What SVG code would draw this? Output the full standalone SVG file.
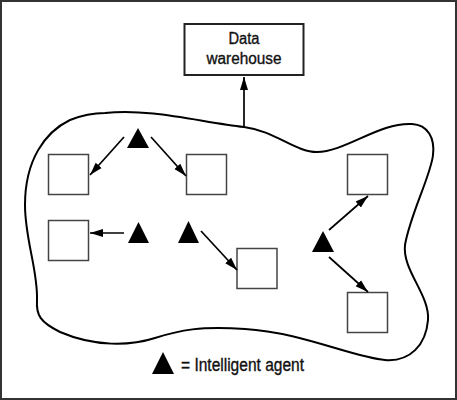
<svg xmlns="http://www.w3.org/2000/svg" width="457" height="400" viewBox="0 0 457 400">
<style>
.sq{fill:#fff;stroke:#444;stroke-width:1.5}
.ag{fill:#000}
.ln{stroke:#000;stroke-width:1.7;fill:none}
.tx{font-family:"Liberation Sans Narrow","Liberation Sans",Arial,sans-serif;fill:#111;stroke:#111;stroke-width:0.35}
</style>
<defs>
<marker id="ah" markerUnits="userSpaceOnUse" markerWidth="14" markerHeight="10" viewBox="0 0 14 10" refX="13" refY="5" orient="auto">
<path d="M0,1 L13,5 L0,9 Z" fill="#000"/>
</marker>
</defs>
<rect x="1" y="1" width="455" height="398" fill="#fff" stroke="#333" stroke-width="2"/>
<g id="region">
<path d="M105,113 C150,108 200,122 244,127 C275,131 295,152 317,152 C345,152 380,122 412,124 C428,125 435,138 433,155 C431,175 410,215 405,245 C402,270 430,295 428,320 C426,345 410,362 385,360 C355,358 300,332 245,329 C200,326 180,330 155,338 C130,346 95,347 60,332 C40,322 36,315 37,300 C38,270 25,240 25,205 C25,160 45,132 70,120 C85,114 95,113 105,113 Z" fill="none" stroke="#000" stroke-width="2"/>
</g>
<g id="warehouse">
<rect x="184.5" y="24" width="119" height="51" fill="#fff" stroke="#222" stroke-width="2"/>
<text class="tx" x="244" y="44" font-size="16" text-anchor="middle" textLength="31" lengthAdjust="spacingAndGlyphs">Data</text>
<text class="tx" x="244" y="64" font-size="16" text-anchor="middle" textLength="75" lengthAdjust="spacingAndGlyphs">warehouse</text>
</g>
<g id="squares">
<rect id="s1" class="sq" x="48.5" y="154.5" width="40" height="40"/>
<rect id="s2" class="sq" x="186.5" y="154.5" width="40" height="40"/>
<rect id="s3" class="sq" x="347.5" y="154.5" width="40" height="40"/>
<rect id="s4" class="sq" x="48.5" y="220.5" width="40" height="40"/>
<rect id="s5" class="sq" x="237" y="248.5" width="40" height="40"/>
<rect id="s6" class="sq" x="347.5" y="292.5" width="40" height="40"/>
</g>
<g id="agents">
<polygon id="a1" class="ag" points="138,128 149,148 127,148"/>
<polygon id="a2" class="ag" points="138.5,222 149,243 128,243"/>
<polygon id="a3" class="ag" points="188.5,221 199,243 178,243"/>
<polygon id="a4" class="ag" points="323,231 334,252 312,252"/>
</g>
<g id="connectors">
<line class="ln" x1="244" y1="128" x2="244" y2="77" marker-end="url(#ah)"/>
<line class="ln" x1="124" y1="137" x2="90" y2="175" marker-end="url(#ah)"/>
<line class="ln" x1="151" y1="137" x2="186" y2="176" marker-end="url(#ah)"/>
<line class="ln" x1="124" y1="233" x2="90" y2="233" marker-end="url(#ah)"/>
<line class="ln" x1="201" y1="231" x2="237" y2="270" marker-end="url(#ah)"/>
<line class="ln" x1="329" y1="230" x2="368" y2="196" marker-end="url(#ah)"/>
<line class="ln" x1="329" y1="257" x2="368" y2="292" marker-end="url(#ah)"/>
</g>
<g id="legend">
<polygon class="ag" points="163,352 174,374 152,374"/>
<text class="tx" x="181" y="371" font-size="17.5" textLength="123" lengthAdjust="spacingAndGlyphs">= Intelligent agent</text>
</g>
</svg>
